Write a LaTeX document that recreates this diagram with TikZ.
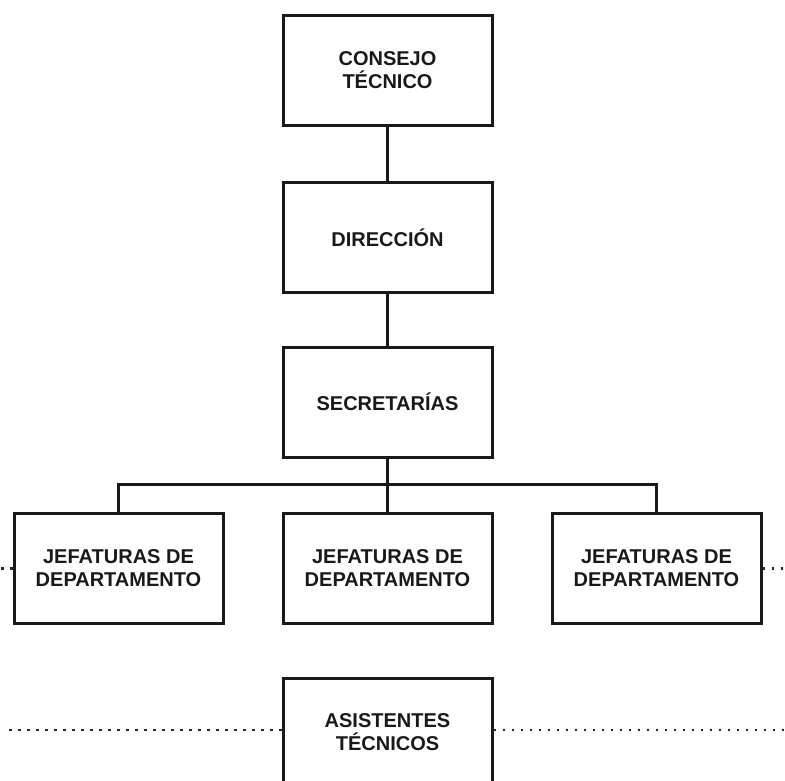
\documentclass[tikz,border=0pt]{standalone}
\usepackage{fontspec}
\setmainfont{Liberation Sans}
\begin{document}
\begin{tikzpicture}[x=1pt,y=-1pt,
  orgbox/.style={draw=black!90, line width=3pt, minimum width=209pt, minimum height=110pt,
    align=center, font=\fontsize{20}{23}\selectfont\bfseries, inner sep=0pt, text=black!90},
  conn/.style={draw=black!90, line width=3pt},
  dotline/.style={draw=black!85, line width=2.4pt, dash pattern=on 2.4pt off 6.6pt}]
\useasboundingbox (0,0) rectangle (785,781);
\clip (0,0) rectangle (785,781);
\node[orgbox] (consejo) at (387.5,70.5) {CONSEJO\\TÉCNICO};
\node[orgbox] (direccion) at (387.5,237.5) {DIRECCIÓN};
\node[orgbox] (secret) at (387.5,402) {SECRETARÍAS};
\node[orgbox] (jefL) at (118.5,568.5) {JEFATURAS DE\\DEPARTAMENTO};
\node[orgbox] (jefM) at (387.5,568.5) {JEFATURAS DE\\DEPARTAMENTO};
\node[orgbox] (jefR) at (656.5,568.5) {JEFATURAS DE\\DEPARTAMENTO};
\node[orgbox, minimum height=120pt] (asist) at (387.5,738) {};
\node[font=\fontsize{20}{23}\selectfont\bfseries, align=center, text=black!90] (asisttxt) at (387.5,732) {ASISTENTES\\TÉCNICOS};
\coordinate (busL) at (jefL.north |- 0,484);
\coordinate (busR) at (jefR.north |- 0,484);
\coordinate (dotL1) at (0,568.5);
\coordinate (dotR1) at (785,568.5);
\coordinate (dotL2) at (4,730);
\coordinate (dotR2) at (785,730);
\draw[conn] (consejo.south) -- (direccion.north);
\draw[conn] (direccion.south) -- (secret.north);
\draw[conn] (secret.south) -- (jefM.north);
\draw[conn] (jefL.north) -- (busL) -- (busR) -- (jefR.north);
\draw[dotline] (jefL.west) -- (dotL1);
\draw[dotline] (jefR.east) -- (dotR1);
\draw[dotline] (asist.west |- dotL2) -- (dotL2);
\draw[dotline] (asist.east |- dotR2) -- (dotR2);
\end{tikzpicture}
\end{document}
